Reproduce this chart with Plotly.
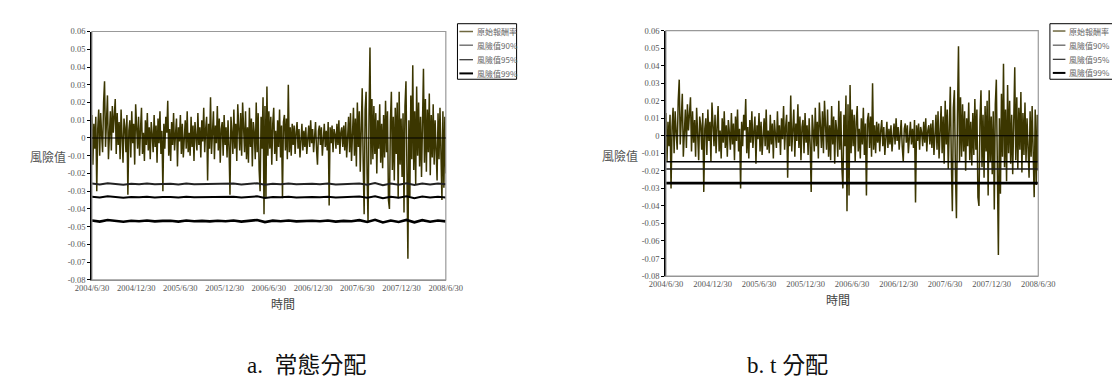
import pandas as pd
import plotly.graph_objects as go

# ---------------- data ----------------
start_date = "2004-06-30"
end_date = "2008-06-30"

tick_labels = ["2004/6/30", "2004/12/30", "2005/6/30", "2005/12/30", "2006/6/30",
               "2006/12/30", "2007/6/30", "2007/12/30", "2008/6/30"]
y_ticks = [0.06, 0.05, 0.04, 0.03, 0.02, 0.01, 0, -0.01, -0.02, -0.03, -0.04,
           -0.05, -0.06, -0.07, -0.08]
y_tick_text = ["0.06", "0.05", "0.04", "0.03", "0.02", "0.01", "0", "-0.01", "-0.02",
               "-0.03", "-0.04", "-0.05", "-0.06", "-0.07", "-0.08"]

# original returns (in 1/1000)
returns_permille = [
    13, -15, 8, -6, 12, -30, 5, 16, -10, 14, 2, -8, 20, 32, -5, 10, 24, -12, 6, 15,
    -7, 18, 3, 12, 22, -9, 14, -4, 9, -12, 16, 1, -14, 11, 6, -8, 13, -32, 4, 10,
    -11, 15, -3, 8, -15, 19, 2, -6, 12, -10, 5, 17, -9, 3, -13, 10, -4, 14, -7, 6,
    -12, 9, 2, -8, 13, -5, 7, -14, 11, -3, 15, -9, 4, -30, 8, -6, 12, 3, 21, -10,
    5, -13, 9, -4, 14, -7, 2, 11, -16, 6, -2, 13, -9, 8, -11, 4, 10, -6, 15, -8,
    3, -10, 12, -5, 7, -13, 9, 1, -7, 14, -4, 6, -11, 10, -2, 17, -8, 5, 12, -24,
    8, -6, 23, -9, 4, 15, -12, 7, -3, 18, -7, 11, -14, 5, 9, -10, 13, -4, 6, -11,
    10, -5, -32, 12, 3, -9, 16, -6, 8, -13, 19, 4, -7, 14, -10, 20, 2, -8, 15, -12,
    6, -14, 17, -5, 11, -16, 9, 3, -12, 20, -8, 14, -18, -30, 12, -6, 23, -43, 18, -34,
    29, -10, 15, -6, 12, -15, 8, 17, -9, 4, -13, 10, -5, 16, -11, 7, -34, 9, 13, -7,
    11, -12, 30, -8, 6, -10, 8, -4, 7, -9, 3, 9, -6, 5, -11, 2, 8, -7, 4, -5,
    6, -9, 3, 7, -5, 10, -3, 5, -8, 2, 9, -6, -15, 4, 7, -4, 6, -10, 3, 8,
    -5, 4, -7, 9, -38, 6, -3, 7, -8, 5, 2, -6, 8, -4, 10, -9, 3, 6, -5, 7,
    -7, 9, -11, 4, 12, -8, 14, -13, 6, 17, -10, 11, -16, 20, -5, 15, -19, 8, 28, -14,
    -43, 16, 26, -20, -47, 12, 51, -15, 22, -12, 18, -9, 14, -20, 10, -6, 19, -14, 8, -17,
    13, -11, 21, -8, 15, -35, -40, 9, 26, -18, 12, -24, 17, -9, 20, -34, 26, -15, 11, -22,
    14, -42, 18, 32, -20, -68, 10, -33, 24, -12, 41, -18, 15, -26, 29, -10, 20, -16, 12, -22,
    8, 39, -14, 22, -19, 16, -8, 25, -21, 13, -11, 19, -15, 10, -7, -24, 14, -12, 17, -9,
    -35, 15, -28, 12, -20,
]

# normal-distribution VaR (in 1/10000)
var90_norm = [-257, -262, -255, -259, -263, -258, -260, -257, -261, -259,
              -258, -262, -257, -260, -259, -261, -258, -260, -257, -262,
              -259, -255, -264, -258, -260, -257, -261, -259, -258, -260,
              -257, -262, -259, -260, -256, -263, -254, -266, -257, -263,
              -255, -265, -256, -262, -257, -261]
var95_norm = [-331, -336, -329, -333, -337, -332, -334, -331, -335, -333,
              -332, -336, -331, -334, -333, -335, -332, -334, -331, -336,
              -333, -329, -338, -332, -334, -331, -335, -333, -332, -334,
              -331, -336, -333, -334, -330, -337, -328, -340, -331, -337,
              -329, -339, -330, -336, -331, -335]
var99_norm = [-465, -471, -462, -467, -472, -466, -469, -465, -470, -467,
              -466, -471, -465, -469, -467, -470, -466, -469, -465, -471,
              -467, -462, -474, -466, -469, -465, -470, -467, -466, -469,
              -465, -471, -467, -469, -463, -473, -461, -476, -465, -473,
              -462, -475, -463, -472, -465, -470]

# t-distribution VaR (constant)
var90_t = -0.0148
var95_t = -0.0189
var99_t = -0.0270

series_names = ["原始報酬率", "風險值90%", "風險值95%", "風險值99%"]
captions = ["a.  常態分配", "b. t 分配"]

# ---------------- derived ----------------
returns = [v / 1000 for v in returns_permille]
dates = pd.date_range(start_date, end_date, periods=len(returns))
var_dates = pd.date_range(start_date, end_date, periods=len(var90_norm))
end_pts = pd.to_datetime([start_date, end_date])
tick_vals = pd.to_datetime(tick_labels, format="%Y/%m/%d")

OLIVE = "#3b3600"
SERIF = "Liberation Serif, Times New Roman, serif"
CJK = "Noto Sans CJK TC"
tick_font = dict(family=SERIF, size=8.5, color="#555555")

styles = [dict(color=OLIVE, width=1.5),
          dict(color="#222222", width=2),
          dict(color="#000000", width=2),
          dict(color="#000000", width=2.6)]
styles_t = [dict(color=OLIVE, width=1.5),
            dict(color="#000000", width=1.5),
            dict(color="#1a1a1a", width=1.5),
            dict(color="#000000", width=2.6)]
legend_keys = [dict(color="#6f6840", width=1.5),
               dict(color="#333333", width=1),
               dict(color="#000000", width=1),
               dict(color="#000000", width=2)]

fig = go.Figure()

# ---- chart a: normal ----
fig.add_trace(go.Scatter(x=dates, y=returns, mode="lines", name=series_names[0],
                         line=styles[0], xaxis="x", yaxis="y"))
for name, vals, st in zip(series_names[1:], [var90_norm, var95_norm, var99_norm], styles[1:]):
    fig.add_trace(go.Scatter(x=var_dates, y=[v / 10000 for v in vals], mode="lines",
                             name=name, line=st, xaxis="x", yaxis="y"))

# ---- chart b: t ----
fig.add_trace(go.Scatter(x=dates, y=returns, mode="lines", name=series_names[0],
                         line=styles_t[0], xaxis="x2", yaxis="y2"))
for name, val, st in zip(series_names[1:], [var90_t, var95_t, var99_t], styles_t[1:]):
    fig.add_trace(go.Scatter(x=end_pts, y=[val, val], mode="lines", name=name,
                             line=st, xaxis="x2", yaxis="y2"))

W, H = 1120, 389
dom_a_x = [69 / W, 434 / W]
dom_a_y = [1 - 274 / H, 1 - 19 / H]
dom_b_x = [661 / W, 1045 / W]
dom_b_y = [1 - 270 / H, 1 - 18 / H]

xcommon = dict(type="date", range=[start_date, end_date], tickmode="array",
               tickvals=tick_vals, ticktext=tick_labels, tickfont=tick_font,
               showgrid=False, zeroline=False, showline=True, linecolor="#888888",
               linewidth=1, ticks="", tickangle=0)
ycommon = dict(range=[-0.08, 0.06], tickmode="array", tickvals=y_ticks,
               ticktext=y_tick_text, tickfont=tick_font, showgrid=False,
               zeroline=False, showline=True, linecolor="#000000", linewidth=1.5,
               ticks="outside", ticklen=3, tickcolor="#000000")

fig.update_layout(
    width=W, height=H, margin=dict(l=0, r=0, t=0, b=0),
    paper_bgcolor="white", plot_bgcolor="white", showlegend=False,
    xaxis=dict(domain=dom_a_x, anchor="y", **xcommon),
    yaxis=dict(domain=dom_a_y, anchor="x", **ycommon),
    xaxis2=dict(domain=dom_b_x, anchor="y2", **xcommon),
    yaxis2=dict(domain=dom_b_y, anchor="x2", **ycommon),
)

shapes = []
for xr, yr in [("x", "y"), ("x2", "y2")]:
    shapes.append(dict(type="rect", xref=f"{xr} domain", yref=f"{yr} domain",
                       x0=0, x1=1, y0=0, y1=1, line=dict(color="#999999", width=1.2),
                       layer="above"))
    shapes.append(dict(type="line", xref=f"{xr} domain", yref=yr, x0=0, x1=1,
                       y0=0, y1=0, line=dict(color="#000000", width=1), layer="above"))

annotations = [
    dict(text="時間", x=251.5 / W, y=1 - 309 / H, xref="paper", yref="paper",
         showarrow=False, font=dict(family=CJK, size=12, color="#444444")),
    dict(text="時間", x=853 / W, y=1 - 305 / H, xref="paper", yref="paper",
         showarrow=False, font=dict(family=CJK, size=12, color="#444444")),
    dict(text="風險值", x=44 / W, y=1 - 147 / H, xref="paper", yref="paper",
         xanchor="right", showarrow=False, font=dict(family=CJK, size=12, color="#555555")),
    dict(text="風險值", x=634 / W, y=1 - 146 / H, xref="paper", yref="paper",
         xanchor="right", showarrow=False, font=dict(family=CJK, size=12, color="#555555")),
    dict(text=captions[0], x=227 / W, y=1 - 377 / H, xref="paper", yref="paper",
         showarrow=False, font=dict(family="Liberation Serif, " + CJK, size=23, color="#111111")),
    dict(text=captions[1], x=830 / W, y=1 - 377 / H, xref="paper", yref="paper",
         showarrow=False, font=dict(family="Liberation Serif, " + CJK, size=23, color="#111111")),
]

# ---- compact legends (box, key lines, labels) ----
legend_specs = [
    dict(box=(446, 507, 11, 68), key=(448, 462), text_x=464, rows=[19, 33, 48, 62]),
    dict(box=(1057, 1125, 11, 68), key=(1060, 1073), text_x=1075, rows=[18.5, 33, 47.5, 61.5]),
]
for spec in legend_specs:
    bx0, bx1, by0, by1 = spec["box"]
    shapes.append(dict(type="rect", xref="paper", yref="paper",
                       x0=bx0 / W, x1=bx1 / W, y0=1 - by1 / H, y1=1 - by0 / H,
                       line=dict(color="#000000", width=1), fillcolor="white"))
    for name, row, key in zip(series_names, spec["rows"], legend_keys):
        shapes.append(dict(type="line", xref="paper", yref="paper",
                           x0=spec["key"][0] / W, x1=spec["key"][1] / W,
                           y0=1 - row / H, y1=1 - row / H, line=key))
        annotations.append(dict(text=name, x=spec["text_x"] / W, y=1 - row / H,
                                xref="paper", yref="paper", xanchor="left",
                                yanchor="middle", showarrow=False,
                                font=dict(family=CJK, size=8, color="#666666")))

fig.update_layout(shapes=shapes, annotations=annotations)

fig.write_html("out.html")
